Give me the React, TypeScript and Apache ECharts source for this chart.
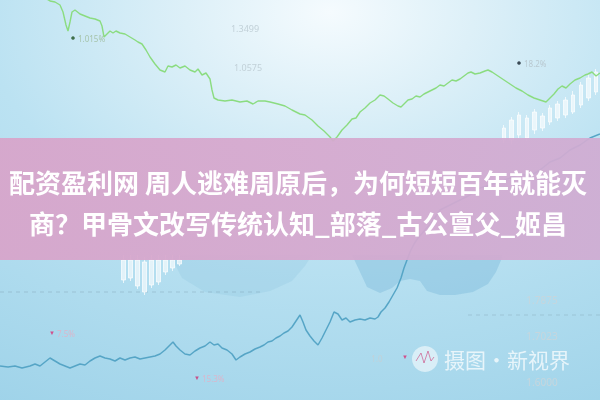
import React, { useEffect, useRef } from "react";
import * as echarts from "echarts";

// Upper (green) price line: [time index, price]
const greenLine: [number, number][] = [
  [42, 1.404], [50, 1.399], [55, 1.398], [60, 1.395], [63, 1.388], [66, 1.375], [68, 1.369], [70, 1.378],
  [72, 1.388], [75, 1.39], [80, 1.386], [85, 1.384], [90, 1.382], [95, 1.381], [100, 1.379], [102, 1.374],
  [104, 1.363], [107, 1.366], [110, 1.369], [113, 1.367], [116, 1.369], [120, 1.367], [125, 1.366], [130, 1.363],
  [135, 1.36], [138, 1.358], [142, 1.356], [146, 1.35], [150, 1.343], [155, 1.336], [160, 1.33], [165, 1.328],
  [168, 1.334], [172, 1.333], [176, 1.335], [180, 1.332], [185, 1.334], [190, 1.33], [195, 1.328], [198, 1.331],
  [202, 1.325], [206, 1.327], [210, 1.321], [212, 1.31], [214, 1.302], [218, 1.3], [225, 1.299], [232, 1.3],
  [240, 1.298], [247, 1.299], [253, 1.296], [258, 1.299], [265, 1.299], [270, 1.298], [278, 1.296], [285, 1.294],
  [292, 1.29], [300, 1.286], [305, 1.285], [312, 1.28], [318, 1.274], [324, 1.269], [330, 1.263], [333, 1.259],
  [337, 1.263], [342, 1.27], [347, 1.275], [352, 1.281], [356, 1.282], [360, 1.288], [365, 1.292], [370, 1.297],
  [375, 1.3], [380, 1.305], [384, 1.304], [388, 1.301], [393, 1.297], [398, 1.294], [401, 1.293], [405, 1.297],
  [408, 1.3], [412, 1.301], [416, 1.304], [420, 1.303], [424, 1.306], [428, 1.308], [432, 1.31], [436, 1.312],
  [440, 1.315], [444, 1.314], [448, 1.317], [452, 1.32], [456, 1.319], [460, 1.321], [464, 1.324], [468, 1.327],
  [471, 1.328], [475, 1.326], [480, 1.327], [485, 1.329], [488, 1.33], [492, 1.328], [498, 1.324], [504, 1.32],
  [510, 1.316], [516, 1.312], [522, 1.309], [528, 1.305], [534, 1.302], [540, 1.3], [546, 1.298], [550, 1.302],
  [554, 1.306], [558, 1.311], [562, 1.314], [566, 1.312], [570, 1.316], [575, 1.32], [580, 1.322], [585, 1.325],
  [588, 1.326], [592, 1.328], [596, 1.324], [600, 1.327],
];

// Lower (blue) price line: [time index, price]
const blueLine: [number, number][] = [
  [0, 1.634], [8, 1.633], [15, 1.634], [22, 1.632], [30, 1.634], [35, 1.636], [40, 1.634], [45, 1.638],
  [50, 1.642], [55, 1.639], [60, 1.636], [65, 1.634], [70, 1.632], [75, 1.634], [80, 1.636], [85, 1.635],
  [90, 1.639], [95, 1.642], [100, 1.644], [105, 1.642], [110, 1.641], [115, 1.639], [120, 1.642], [125, 1.64],
  [130, 1.642], [135, 1.643], [140, 1.641], [145, 1.642], [150, 1.643], [155, 1.644], [160, 1.646], [165, 1.65],
  [170, 1.655], [173, 1.658], [176, 1.654], [180, 1.65], [185, 1.646], [190, 1.645], [195, 1.649], [200, 1.652],
  [205, 1.654], [210, 1.658], [214, 1.655], [218, 1.656], [222, 1.652], [227, 1.65], [232, 1.646], [236, 1.64],
  [240, 1.643], [245, 1.646], [250, 1.648], [255, 1.651], [260, 1.653], [264, 1.655], [268, 1.658], [272, 1.659],
  [276, 1.662], [280, 1.664], [284, 1.667], [288, 1.669], [292, 1.673], [296, 1.679], [300, 1.685], [303, 1.678],
  [306, 1.67], [310, 1.664], [314, 1.659], [318, 1.655], [322, 1.662], [326, 1.67], [330, 1.678], [334, 1.688],
  [338, 1.686], [342, 1.68], [346, 1.682], [350, 1.678], [355, 1.68], [360, 1.681], [365, 1.68], [370, 1.682],
  [375, 1.681], [378, 1.683], [381, 1.688], [385, 1.692], [389, 1.698], [393, 1.705], [397, 1.712], [401, 1.722],
  [404, 1.732], [407, 1.74], [410, 1.748], [414, 1.756], [418, 1.762], [425, 1.77], [432, 1.778], [440, 1.79],
  [450, 1.795], [460, 1.8], [470, 1.805], [480, 1.812], [490, 1.815], [500, 1.818], [510, 1.822], [520, 1.826],
  [530, 1.824], [540, 1.83], [550, 1.838], [560, 1.842], [570, 1.85], [580, 1.855], [590, 1.862], [600, 1.866],
];

// Candles [open, close, low, high]
const candleDaysA = ["A1", "A2", "A3", "A4", "A5", "A6", "A7", "A8", "A9", "A10", "A11", "A12", "A13"];
const candlesA: number[][] = [
  [1.26, 1.272, 1.257, 1.275], [1.26, 1.28, 1.256, 1.283], [1.265, 1.285, 1.262, 1.288], [1.282, 1.262, 1.259, 1.285],
  [1.27, 1.288, 1.266, 1.291], [1.284, 1.272, 1.269, 1.287], [1.278, 1.292, 1.275, 1.295], [1.282, 1.296, 1.279, 1.299],
  [1.285, 1.3, 1.282, 1.303], [1.288, 1.305, 1.286, 1.309], [1.295, 1.315, 1.292, 1.318], [1.302, 1.322, 1.299, 1.326],
  [1.308, 1.328, 1.305, 1.331],
];
const candleDaysB = ["B1", "B2", "B3", "B4", "B5", "B6", "B7", "B8", "B9"];
const candlesB: number[][] = [
  [1.72, 1.74, 1.717, 1.745], [1.74, 1.722, 1.719, 1.745], [1.714, 1.74, 1.711, 1.745], [1.738, 1.708, 1.705, 1.743],
  [1.715, 1.74, 1.712, 1.745], [1.74, 1.718, 1.715, 1.745], [1.728, 1.74, 1.725, 1.745], [1.74, 1.732, 1.729, 1.745],
  [1.736, 1.74, 1.734, 1.745],
];

const titleLines = ["配资盈利网 周人逃难周原后，为何短短百年就能灭", "商？甲骨文改写传统认知_部落_古公亶父_姬昌"];
const priceTickLabels = ["1.7875", "1.7023", "1.6000"];
const topTickLabels = ["1.3499", "1.0575"];
const watermark = "摄图·新视界";

export default function App() {
  const ref = useRef<HTMLDivElement>(null);
  useEffect(() => {
    if (!ref.current) return;
    const chart = echarts.init(ref.current, undefined, { renderer: "svg" });
    const smallFont = "Noto Sans, sans-serif";
    const candleStyle = {
      color: "rgba(255,255,255,0.62)",
      color0: "rgba(255,255,255,0.62)",
      borderColor: "rgba(255,255,255,0.7)",
      borderColor0: "rgba(255,255,255,0.7)",
      borderWidth: 1,
    };
    chart.setOption({
      animation: false,
      grid: [
        { left: 0, right: 0, top: 0, bottom: 0 },
        { left: 500, top: 0, width: 100, height: 400 },
        { left: 120, top: 0, width: 63, height: 400 },
      ],
      xAxis: [
        { type: "value", min: 0, max: 600, show: false, gridIndex: 0 },
        { type: "category", data: candleDaysA, show: false, gridIndex: 1 },
        { type: "category", data: candleDaysB, show: false, gridIndex: 2 },
      ],
      yAxis: [
        { type: "value", min: 1.0, max: 1.4, show: false, gridIndex: 0 },
        { type: "value", min: 1.6, max: 2.0, show: false, gridIndex: 0 },
        { type: "value", min: 1.0, max: 1.4, show: false, gridIndex: 1 },
        { type: "value", min: 1.6, max: 2.0, show: false, gridIndex: 2 },
      ],
      series: [
        {
          type: "line",
          data: greenLine,
          xAxisIndex: 0,
          yAxisIndex: 0,
          showSymbol: false,
          lineStyle: { color: "#8bdc80", width: 1.4 },
          z: 3,
        },
        {
          type: "line",
          data: blueLine,
          xAxisIndex: 0,
          yAxisIndex: 1,
          showSymbol: false,
          lineStyle: { color: "#56a5c6", width: 1.5 },
          z: 3,
        },
        {
          type: "candlestick",
          data: candlesA,
          xAxisIndex: 1,
          yAxisIndex: 2,
          barWidth: 4,
          itemStyle: candleStyle,
          z: 2,
        },
        {
          type: "candlestick",
          data: candlesB,
          xAxisIndex: 2,
          yAxisIndex: 3,
          barWidth: 4,
          itemStyle: candleStyle,
          z: 2,
        },
      ],
      graphic: [
        {
          type: "rect",
          z: -10,
          shape: { x: 0, y: 0, width: 600, height: 400 },
          style: {
            fill: {
              type: "radial",
              x: 0.55,
              y: 0.03,
              r: 1.2,
              colorStops: [
                { offset: 0, color: "#f5fbfe" },
                { offset: 0.2, color: "#ddf0f8" },
                { offset: 0.48, color: "#bbe2f2" },
                { offset: 1, color: "#9bd1e8" },
              ],
            },
          },
        },
        {
          type: "polygon",
          z: -5,
          shape: {
            points: [
              [352, 255], [360, 272], [367, 287], [380, 293], [392, 288], [400, 281], [410, 279], [420, 281],
              [427, 291], [440, 295], [455, 295], [473, 292], [488, 284], [496, 272], [502, 258], [502, 255],
            ],
          },
          style: { fill: "rgba(105,175,210,0.32)" },
        },
        {
          type: "polygon",
          z: -5,
          shape: {
            points: [[170, 255], [182, 278], [205, 292], [240, 297], [270, 291], [292, 281], [305, 266], [312, 255]],
          },
          style: { fill: "rgba(105,175,210,0.15)" },
        },
        {
          type: "line",
          z: -4,
          shape: { x1: 0, y1: 292, x2: 260, y2: 292 },
          style: { stroke: "rgba(110,135,155,0.3)", lineWidth: 1, lineDash: [4, 4] },
        },
        {
          type: "line",
          z: -4,
          shape: { x1: 468, y1: 315, x2: 600, y2: 315 },
          style: { stroke: "rgba(110,135,155,0.28)", lineWidth: 1, lineDash: [4, 4] },
        },
        // small labels
        {
          type: "text", z: 5, x: 245, y: 28,
          style: { text: topTickLabels[0], fill: "#c2d1d8", font: `9px ${smallFont}`, align: "center", verticalAlign: "middle" },
        },
        {
          type: "text", z: 5, x: 248, y: 67,
          style: { text: topTickLabels[1], fill: "#c2d1d8", font: `9px ${smallFont}`, align: "center", verticalAlign: "middle" },
        },
        { type: "circle", z: 5, shape: { cx: 73, cy: 38, r: 1.8 }, style: { fill: "#3f6f4a" } },
        {
          type: "text", z: 5, x: 78, y: 38,
          style: { text: "1.015%", fill: "#a6c4ab", font: `8px ${smallFont}`, verticalAlign: "middle" },
        },
        { type: "circle", z: 5, shape: { cx: 519, cy: 63, r: 1.8 }, style: { fill: "#3a4a55" } },
        {
          type: "text", z: 5, x: 524, y: 63,
          style: { text: "18.2%", fill: "#b9c9d1", font: `8px ${smallFont}`, verticalAlign: "middle" },
        },
        {
          type: "text", z: 5, x: 52, y: 333,
          style: { text: "▼", fill: "#d2508c", font: `6px ${smallFont}`, align: "center", verticalAlign: "middle" },
        },
        {
          type: "text", z: 5, x: 57, y: 333,
          style: { text: "7.5%", fill: "#d9b7cc", font: `8px ${smallFont}`, verticalAlign: "middle" },
        },
        {
          type: "text", z: 5, x: 197, y: 378,
          style: { text: "▼", fill: "#c8508a", font: `6px ${smallFont}`, align: "center", verticalAlign: "middle" },
        },
        {
          type: "text", z: 5, x: 202, y: 378,
          style: { text: "15.3%", fill: "#d9b7cc", font: `8px ${smallFont}`, verticalAlign: "middle" },
        },
        {
          type: "text", z: 5, x: 405, y: 357,
          style: { text: "▼", fill: "#d2508c", font: `6px ${smallFont}`, align: "center", verticalAlign: "middle" },
        },
        {
          type: "text", z: 5, x: 377, y: 358,
          style: { text: "1.0", fill: "#c2d1d8", font: `8px ${smallFont}`, align: "center", verticalAlign: "middle" },
        },
        ...priceTickLabels.map((t, i) => ({
          type: "text", z: 5, x: 542, y: [300, 336, 382][i],
          style: { text: t, fill: "#c6d6dd", font: `10px ${smallFont}`, align: "center", verticalAlign: "middle" },
        })),
        // watermark
        { type: "circle", z: 40, shape: { cx: 425, cy: 359, r: 13 }, style: { fill: "rgba(255,255,255,0.55)" } },
        {
          type: "polyline", z: 41,
          shape: { points: [[416, 361], [421, 353], [424, 363], [428, 351], [431, 361], [434, 357]] },
          style: { stroke: "rgba(205,90,140,0.7)", lineWidth: 1, fill: "none" },
        },
        {
          type: "text", z: 41, x: 507, y: 359,
          style: {
            text: watermark, fill: "rgba(255,255,255,0.72)",
            font: `21px "Noto Sans CJK SC", sans-serif`, align: "center", verticalAlign: "middle",
          },
        },
        // banner
        {
          type: "rect",
          z: 50,
          shape: { x: 0, y: 138, width: 600, height: 122 },
          style: {
            fill: {
              type: "linear", x: 0, y: 0, x2: 1, y2: 0,
              colorStops: [
                { offset: 0, color: "rgba(216,164,202,0.93)" },
                { offset: 0.5, color: "rgba(214,168,206,0.93)" },
                { offset: 1, color: "rgba(208,172,210,0.93)" },
              ],
            },
          },
        },
        ...titleLines.map((t, i) => ({
          type: "text",
          z: 51,
          x: 298,
          y: [181, 222][i],
          style: {
            text: t,
            fill: "#ffffff",
            font: `bold 26px "Noto Sans CJK SC", sans-serif`,
            align: "center",
            verticalAlign: "middle",
          },
        })),
      ],
    });
    return () => chart.dispose();
  }, []);
  return <div ref={ref} style={{ position: "fixed", left: 0, top: 0, width: 600, height: 400 }} />;
}
